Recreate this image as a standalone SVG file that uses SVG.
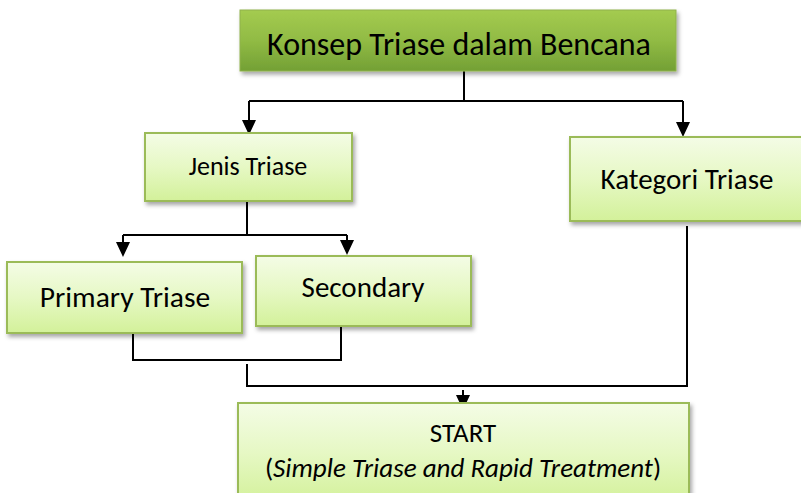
<svg xmlns="http://www.w3.org/2000/svg" width="801" height="493" viewBox="0 0 801 493">
  <style>
    .box { fill: url(#lightGreen); stroke: #9bbb59; stroke-width: 2; filter: url(#shadow); }
    .head { fill: url(#darkGreen); stroke: #8fb24d; stroke-width: 1; filter: url(#shadow); }
    .lbl { font-family: "Carlito", "Liberation Sans", Arial, sans-serif; fill: #000; text-anchor: middle; }
    .wire { fill: none; stroke: #000; stroke-width: 2; }
  </style>
  <defs>
    <linearGradient id="lightGreen" x1="0" y1="0" x2="0" y2="1">
      <stop offset="0" stop-color="#f4fce6"/>
      <stop offset="0.5" stop-color="#e6f8c4"/>
      <stop offset="1" stop-color="#d3f19a"/>
    </linearGradient>
    <linearGradient id="darkGreen" x1="0" y1="0" x2="0" y2="1">
      <stop offset="0" stop-color="#a4cb50"/>
      <stop offset="0.5" stop-color="#91bb44"/>
      <stop offset="1" stop-color="#73a035"/>
    </linearGradient>
    <filter id="shadow" x="-10%" y="-20%" width="130%" height="150%">
      <feDropShadow dx="2" dy="3" stdDeviation="2" flood-color="#000" flood-opacity="0.35"/>
    </filter>
  </defs>

  <!-- connectors -->
  <g id="connectors">
    <path class="wire" d="M464,71 V101"/>
    <path class="wire" d="M249,101 H683"/>
    <path class="wire" d="M249,101 V120"/>
    <path class="wire" d="M683,101 V122"/>
    <path class="wire" d="M247,201 V235"/>
    <path class="wire" d="M123,235 H347"/>
    <path class="wire" d="M123,235 V242"/>
    <path class="wire" d="M347,235 V240"/>
    <path class="wire" d="M133,333 V360 H341 V326"/>
    <path class="wire" d="M247,364 V386 H687 V226"/>
    <path class="wire" d="M463,390 V395"/>
    <!-- arrowheads -->
    <path d="M242,120 L256,120 L249,135 Z"/>
    <path d="M676,122 L690,122 L683,137 Z"/>
    <path d="M116,242 L130,242 L123,257 Z"/>
    <path d="M340,240 L354,240 L347,255 Z"/>
    <path d="M456,395 L470,395 L463,410 Z"/>
  </g>

  <g id="konsep">
    <rect class="head" x="240" y="10" width="436" height="61"/>
    <text class="lbl" x="459" y="55" font-size="32">Konsep Triase dalam Bencana</text>
  </g>

  <g id="jenis">
    <rect class="box" x="145" y="133" width="207" height="68"/>
    <text class="lbl" x="248" y="175" font-size="26">Jenis Triase</text>
  </g>

  <g id="kategori">
    <rect class="box" x="570" y="137" width="240" height="84"/>
    <text class="lbl" x="687" y="189" font-size="29">Kategori Triase</text>
  </g>

  <g id="primary">
    <rect class="box" x="7" y="262" width="235" height="71"/>
    <text class="lbl" x="125" y="307" font-size="29.5">Primary Triase</text>
  </g>

  <g id="secondary">
    <rect class="box" x="256" y="256" width="215" height="70"/>
    <text class="lbl" x="363" y="297" font-size="29">Secondary</text>
  </g>

  <g id="start">
    <rect class="box" x="238" y="403" width="451" height="100"/>
    <text class="lbl" x="463" y="442" font-size="27">START</text>
    <text class="lbl" x="463" y="477" font-size="27">(<tspan font-style="italic">Simple Triase and Rapid Treatment</tspan>)</text>
  </g>
</svg>
